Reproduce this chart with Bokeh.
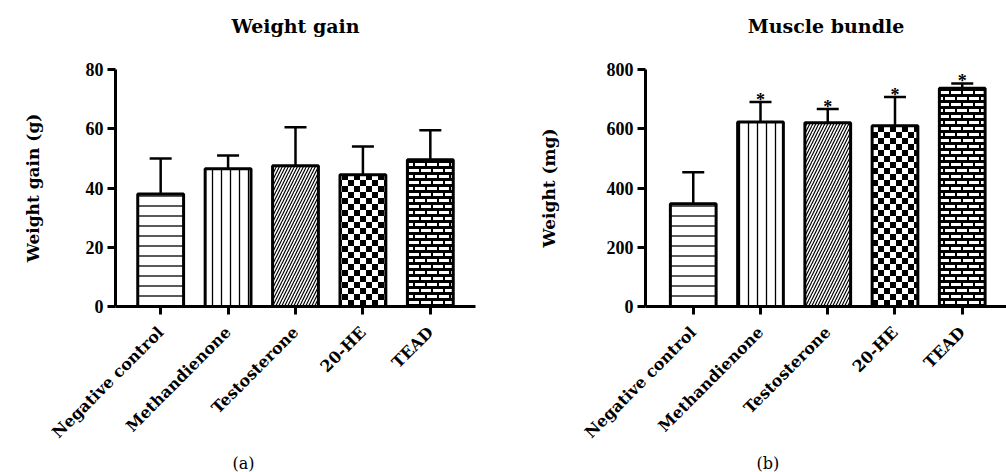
import math, zlib, struct, base64
from bokeh.plotting import figure
from bokeh.models import (Range1d, FixedTicker, ColumnDataSource, Title,
                          ImageURLTexture, Whisker, TeeHead)
from bokeh.layouts import row
from bokeh.embed import file_html
from bokeh.resources import INLINE
from bokeh.core.properties import value

categories = ["Negative control", "Methandienone", "Testosterone", "20-HE", "TEAD"]

weight_gain_mean = [38, 46.5, 47.5, 44.5, 49.5]
weight_gain_err = [12, 4.5, 13, 9.5, 10]
weight_gain_sig = ["", "", "", "", ""]
weight_gain_ticks = [0, 20, 40, 60, 80]

muscle_mean = [347, 623, 620, 610, 737]
muscle_err = [106, 67, 47, 97, 16]
muscle_sig = ["", "*", "*", "*", "*"]
muscle_ticks = [0, 200, 400, 600, 800]

patterns = ["horizontal_line", "vertical_line", "right_diagonal_line", "checker", "brick"]
pattern_scales = [10, 9, 6, 12, 12]
pattern_weights = [1.3, 1.3, 1.2, 1, 1]


def png_uri(cells):
    h, w = len(cells), len(cells[0])
    raw = b"".join(b"\x00" + bytes(v for px in r for v in ((0, 0, 0, 255) if px else (255, 255, 255, 0))) for r in cells)

    def chunk(t, d):
        return struct.pack(">I", len(d)) + t + d + struct.pack(">I", zlib.crc32(t + d) & 0xffffffff)
    png = (b"\x89PNG\r\n\x1a\n" + chunk(b"IHDR", struct.pack(">IIBBBBB", w, h, 8, 6, 0, 0, 0))
           + chunk(b"IDAT", zlib.compress(raw)) + chunk(b"IEND", b""))
    return "data:image/png;base64," + base64.b64encode(png).decode()


checker_cells = [[1 if ((x // 6) + (y // 6)) % 2 == 0 else 0 for x in range(12)] for y in range(12)]


def brick_px(x, y):
    if 1 <= y <= 3:
        return 0 if 1 <= x <= 10 else 1
    if 7 <= y <= 9:
        return 0 if (x <= 4 or x >= 7) else 1
    return 1


brick_cells = [[brick_px(x, y) for x in range(12)] for y in range(12)]

TEXTURES = {"checker": ImageURLTexture(url=png_uri(checker_cells)),
            "brick": ImageURLTexture(url=png_uri(brick_cells))}

LABEL_FONT = "DejaVu Serif"
TICK_FONT = "Liberation Serif"


def make_chart(title, ylabel, means, errs, sig, ymax, yticks, caption,
               width, mb_left, mb_right, mb_top, frame_h, x_start, x_end,
               ylabel_standoff, caption_offset):
    H = 472
    p = figure(width=width, height=H, x_range=Range1d(x_start, x_end),
               y_range=Range1d(0, ymax), output_backend="svg", toolbar_location=None,
               min_border_left=mb_left, min_border_right=mb_right,
               min_border_top=mb_top, min_border_bottom=H - mb_top - frame_h)
    p.outline_line_color = None
    p.grid.visible = False
    p.background_fill_color = "white"
    p.border_fill_color = "white"

    xs = list(range(len(categories)))
    upper = [m + e for m, e in zip(means, errs)]
    src = ColumnDataSource(dict(x=xs, top=means, upper=upper, pat=patterns,
                                hs=pattern_scales, hw=pattern_weights, sig=sig))
    p.vbar(x="x", top="top", width=0.68, source=src, fill_color="white",
           line_color="black", line_width=3, hatch_pattern="pat", hatch_color="black",
           hatch_scale="hs", hatch_weight="hw", hatch_extra=TEXTURES)
    p.add_layout(Whisker(source=src, base="x", lower="top", upper="upper",
                         dimension="height", line_width=2.5, line_color="black",
                         upper_head=TeeHead(size=22, line_width=2.5, line_color="black"),
                         lower_head=None))
    p.text(x="x", y="upper", text="sig", source=src, text_align="center",
           text_baseline="alphabetic", y_offset=-2, text_font=value(TICK_FONT),
           text_font_size="18px", text_font_style="bold", text_color="black")

    for ax in (p.xaxis[0], p.yaxis[0]):
        ax.axis_line_width = 3
        ax.major_tick_line_width = 3
        ax.major_tick_out = 8
        ax.major_tick_in = 0
        ax.minor_tick_line_color = None
        ax.major_label_text_font = TICK_FONT
        ax.major_label_text_font_style = "bold"
        ax.major_label_text_color = "black"
        ax.axis_line_color = "black"
        ax.major_tick_line_color = "black"

    p.yaxis.ticker = FixedTicker(ticks=yticks)
    p.yaxis.major_label_text_font_size = "18px"
    p.yaxis.major_label_standoff = 4
    p.yaxis.axis_label = ylabel
    p.yaxis.axis_label_text_font = LABEL_FONT
    p.yaxis.axis_label_text_font_size = "17px"
    p.yaxis.axis_label_text_font_style = "bold"
    p.yaxis.axis_label_text_color = "black"
    p.yaxis.axis_label_standoff = ylabel_standoff

    p.xaxis.ticker = FixedTicker(ticks=xs)
    p.xaxis.major_label_overrides = {i: c for i, c in zip(xs, categories)}
    p.xaxis.major_label_orientation = math.pi / 4
    p.xaxis.major_label_text_font = LABEL_FONT
    p.xaxis.major_label_text_font_size = "16px"
    p.xaxis.major_label_standoff = 15

    p.title = None
    p.add_layout(Title(text=" ", text_font_size="19px", standoff=0), "above")
    p.add_layout(Title(text=title, align="center", text_font=LABEL_FONT,
                       text_font_size="19px", text_font_style="bold",
                       text_color="black", standoff=20), "above")
    p.add_layout(Title(text=caption, align="left", offset=caption_offset,
                       text_font=LABEL_FONT, text_font_size="16px",
                       text_font_style="normal", text_color="black", standoff=0),
                 "below")
    return p


p1 = make_chart("Weight gain", "Weight gain (g)", weight_gain_mean, weight_gain_err,
                weight_gain_sig, 80, weight_gain_ticks, "(a)",
                width=500, mb_left=115, mb_right=25, mb_top=68, frame_h=239,
                x_start=-0.67, x_end=4.67, ylabel_standoff=40, caption_offset=117)
p2 = make_chart("Muscle bundle", "Weight (mg)", muscle_mean, muscle_err,
                muscle_sig, 800, muscle_ticks, "(b)",
                width=506, mb_left=145, mb_right=0, mb_top=69, frame_h=240,
                x_start=-0.71, x_end=4.658, ylabel_standoff=45, caption_offset=111)

layout = row(p1, p2)
open("out.html", "w").write(file_html(layout, INLINE))
